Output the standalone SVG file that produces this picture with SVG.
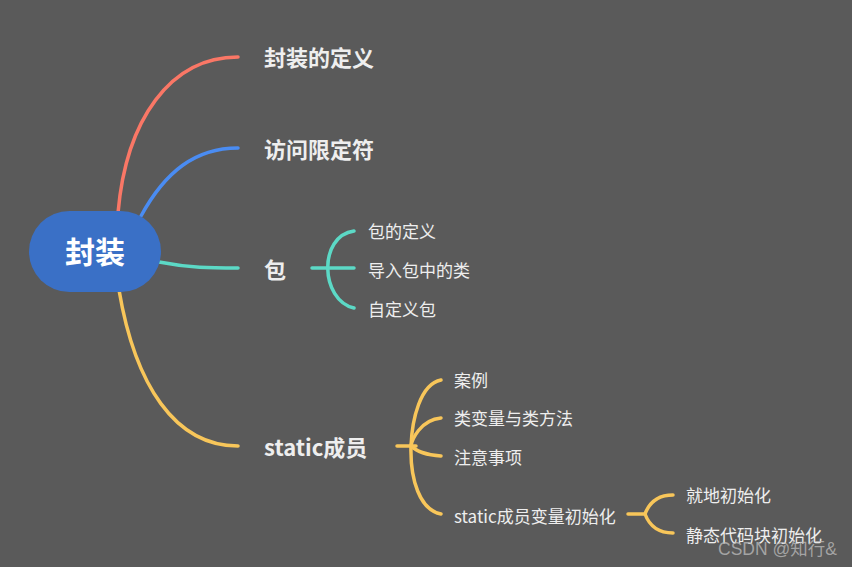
<svg xmlns="http://www.w3.org/2000/svg" width="852" height="567" viewBox="0 0 852 567">
<style>
.c{fill:none;stroke-width:3.5;stroke-linecap:round}
.t{font-family:"Noto Sans CJK SC","Liberation Sans",sans-serif;fill:#eeeeee;dominant-baseline:central}
.b{font-size:22px;font-weight:bold}
.s{font-size:17px}
</style>
<rect width="852" height="567" fill="#5a5a5a"/>
<g id="connectors">
<path class="c" stroke="#fa7766" d="M118,213 C126,120 170,57 238,57"/>
<path class="c" stroke="#4a8cf2" d="M141,216 C165,172 195,148 238,148"/>
<path class="c" stroke="#5cd9c6" d="M159,262 C190,268 210,268 238,268"/>
<path class="c" stroke="#f8c65a" d="M119,290 C135,385 175,446 238,446"/>
<g stroke="#5cd9c6" class="c">
<path d="M312,268 H354"/>
<path d="M354,231 C318,236 320,300 354,308"/>
</g>
<g stroke="#f8c65a" class="c">
<path d="M397,446 H416"/>
<path d="M441,380 C420,384 412,420 411,446 C410,480 420,510 441,514"/>
<path d="M441,418 C420,420 412,440 411,446"/>
<path d="M441,456 C425,455 415,450 411,446"/>
<path d="M628,514 H644"/>
<path d="M673,495 C655,495 648,506 645,514 C648,522 655,533 673,533"/>
</g>
</g>
<g id="root">
<rect x="29" y="211" width="132" height="81" rx="40.5" fill="#3a70c6"/>
<text class="t" x="95" y="250" font-size="30" font-weight="bold" text-anchor="middle" style="fill:#ffffff">封装</text>
</g>
<g id="n1"><text class="t b" x="264" y="56">封装的定义</text></g>
<g id="n2"><text class="t b" x="264" y="148">访问限定符</text></g>
<g id="n3"><text class="t b" x="264" y="268">包</text></g>
<g id="n3a"><text class="t s" x="368" y="230">包的定义</text></g>
<g id="n3b"><text class="t s" x="368" y="269">导入包中的类</text></g>
<g id="n3c"><text class="t s" x="368" y="308">自定义包</text></g>
<g id="n4"><text class="t b" x="264" y="446">static成员</text></g>
<g id="n4a"><text class="t s" x="454" y="379">案例</text></g>
<g id="n4b"><text class="t s" x="454" y="417">类变量与类方法</text></g>
<g id="n4c"><text class="t s" x="454" y="456">注意事项</text></g>
<g id="n4d"><text class="t s" x="454" y="515">static成员变量初始化</text></g>
<g id="n4d1"><text class="t s" x="686" y="494">就地初始化</text></g>
<g id="n4d2"><text class="t s" x="686" y="534">静态代码块初始化</text></g>
<text x="718" y="555" font-family="Liberation Sans,Noto Sans CJK SC,sans-serif" font-size="17.5" fill="#bdbdbd" fill-opacity="0.75">CSDN @知行&amp;</text>
</svg>
